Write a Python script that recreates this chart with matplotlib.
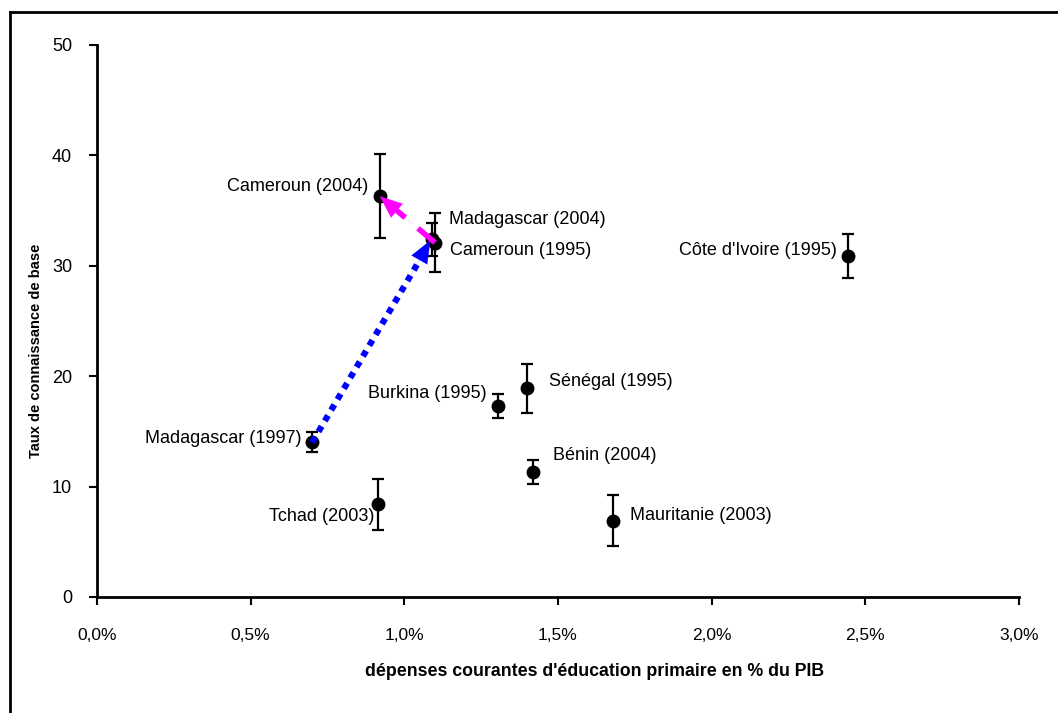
import matplotlib
matplotlib.use('Agg')
import matplotlib.pyplot as plt
from matplotlib.lines import Line2D
from matplotlib.ticker import FuncFormatter
from matplotlib import font_manager

plt.rcParams['font.family'] = ['Liberation Sans', 'DejaVu Sans']

# data
pays = ['Madagascar (1997)', 'Tchad (2003)', 'Burkina (1995)', 'Sénégal (1995)',
        'Bénin (2004)', 'Mauritanie (2003)', "Côte d'Ivoire (1995)",
        'Cameroun (2004)', 'Madagascar (2004)', 'Cameroun (1995)']
depenses = [0.70, 0.915, 1.305, 1.40, 1.42, 1.68, 2.445, 0.92, 1.09, 1.10]
taux = [14.0, 8.4, 17.3, 18.9, 11.3, 6.9, 30.9, 36.3, 32.4, 32.1]
erreur = [0.9, 2.3, 1.1, 2.2, 1.1, 2.3, 2.0, 3.8, 1.5, 2.7]

# label offsets in points (dx, dy) and alignment
label_pos = [(-8, 3, 'right'), (-3, -9, 'right'), (-8, 9, 'right'), (16, 5, 'left'),
             (14, 12, 'left'), (12, 4, 'left'), (-8, 4, 'right'),
             (-8, 7, 'right'), (12, 14, 'left'), (11, -6, 'left')]

# condensed font for the y label if available
noms = {f.name for f in font_manager.fontManager.ttflist}
if 'Liberation Sans Narrow' in noms:
    ylab_font, ylab_size = 'Liberation Sans Narrow', 12.5
else:
    ylab_font, ylab_size = 'Liberation Sans', 10.5

fig = plt.figure(figsize=(10.58, 7.13), dpi=100)
ax = fig.add_axes([0.0917, 0.1627, 0.8713, 0.7742])

ax.errorbar(depenses, taux, yerr=erreur, fmt='o', color='black', markersize=9,
            ecolor='black', elinewidth=1.6, capsize=4.5, capthick=1.6, zorder=3)

for x, y, name, (dx, dy, ha) in zip(depenses, taux, pays, label_pos):
    ax.annotate(name, (x, y), xytext=(dx, dy), textcoords='offset points',
                ha=ha, va='center', fontsize=13)

head = '-|>,head_length=1.6,head_width=0.65'

# évolution Madagascar 1997 -> 2004 (bleu pointillé)
i0, i1 = pays.index('Madagascar (1997)'), pays.index('Madagascar (2004)')
x0, y0, x1, y1 = depenses[i0], taux[i0], depenses[i1], taux[i1]
ax.plot([x0, x0 + 0.88 * (x1 - x0)], [y0, y0 + 0.88 * (y1 - y0)], color='blue',
        linestyle=(0, (1, 1)), linewidth=4.5, zorder=4)
ax.annotate('', xy=(x1 - 0.005, y1 - 0.1), xytext=(x0 + 0.8 * (x1 - x0), y0 + 0.8 * (y1 - y0)),
            arrowprops=dict(arrowstyle=head, color='blue', lw=0.1,
                            shrinkA=0, shrinkB=0), zorder=4)

# évolution Cameroun 1995 -> 2004 (magenta tirets)
j0, j1 = pays.index('Cameroun (1995)'), pays.index('Cameroun (2004)')
x0, y0, x1, y1 = depenses[j0], taux[j0], depenses[j1], taux[j1]
ax.plot([x0, x0 + 0.72 * (x1 - x0)], [y0, y0 + 0.72 * (y1 - y0)], color='magenta',
        linestyle=(0, (4, 3)), linewidth=4, zorder=4)
ax.annotate('', xy=(x1, y1), xytext=(x0 + 0.4 * (x1 - x0), y0 + 0.4 * (y1 - y0)),
            arrowprops=dict(arrowstyle=head, color='magenta', lw=0.1,
                            shrinkA=0, shrinkB=0), zorder=4)

ax.set_xlim(0, 3.0)
ax.set_ylim(0, 50)
ax.set_xticks([0, 0.5, 1.0, 1.5, 2.0, 2.5, 3.0])
ax.set_yticks([0, 10, 20, 30, 40, 50])
ax.xaxis.set_major_formatter(FuncFormatter(lambda v, p: ('%.1f%%' % v).replace('.', ',')))

for s in ['top', 'right']:
    ax.spines[s].set_visible(False)
for s in ['left', 'bottom']:
    ax.spines[s].set_linewidth(2)
ax.tick_params(axis='both', direction='out', length=6, width=1.5)
ax.tick_params(axis='x', pad=16, labelsize=12.5)
ax.tick_params(axis='y', pad=12, labelsize=13)

ax.set_xlabel("dépenses courantes d'éducation primaire en % du PIB",
              fontsize=12.75, fontweight='bold')
ax.xaxis.set_label_coords(0.540, -0.12)
ax.set_ylabel('Taux de connaissance de base', fontsize=ylab_size, fontweight='bold',
              family=[ylab_font, 'DejaVu Sans'])
ax.yaxis.set_label_coords(-0.0586, 0.4457)

# cadre (haut et gauche seulement visibles)
fig.add_artist(Line2D([10 / 1058, 1], [1 - 12 / 713, 1 - 12 / 713],
                      transform=fig.transFigure, color='black', lw=2))
fig.add_artist(Line2D([10 / 1058, 10 / 1058], [0, 1 - 12 / 713],
                      transform=fig.transFigure, color='black', lw=2))

fig.savefig('out.png', dpi=100)
